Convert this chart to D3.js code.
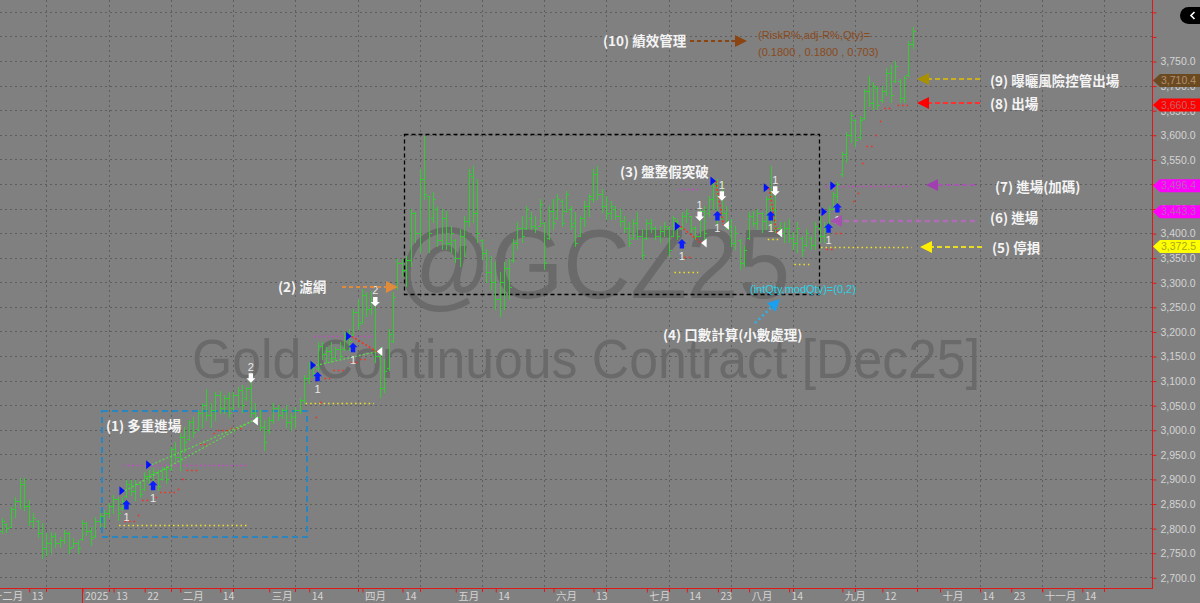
<!DOCTYPE html>
<html><head><meta charset="utf-8">
<script src="https://cdn.jsdelivr.net/npm/d3@7"></script>
<style>
html,body{margin:0;padding:0;background:#808080;overflow:hidden}
svg{display:block}
</style></head><body>
<svg id="c" width="1200" height="603"></svg>
<script>
// ---------------- DATA ----------------
const firstBar = 3; // trading-day index (0 = 2024-12-02) of the first bar drawn
const highs = [
2820,2810,2843,2863,2902,2902,2857,2831,2816,2810,
2790,2792,2790,2782,2796,2792,2780,2776,2816,2812,
2802,2822,2831,2837,2851,2867,2863,2863,2898,2898,
2898,2894,2914,2918,2922,2918,2924,2929,2965,2976,
2994,3006,3020,3027,3041,3055,3082,3055,3076,3078,
3071,3076,3076,3088,3092,3088,3102,3055,3041,3020,
3027,3055,3051,3045,3051,3035,3047,3065,3112,3137,
3137,3178,3178,3169,3178,3169,3178,3198,3204,3245,
3265,3286,3280,3282,3259,3169,3143,3204,3280,3347,
3347,3353,3449,3443,3531,3598,3476,3484,3455,3449,
3445,3414,3388,3408,3435,3531,3537,3510,3388,3367,
3353,3341,3320,3341,3347,3388,3422,3435,3455,3443,
3435,3469,3422,3455,3469,3480,3469,3486,3455,3443,
3435,3465,3480,3531,3537,3490,3476,3465,3455,3449,
3435,3422,3429,3443,3408,3429,3429,3414,3414,3422,
3414,3435,3429,3443,3449,3435,3414,3449,3455,3476,
3504,3510,3504,3455,3429,3414,3388,3373,3443,3445,
3449,3443,3476,3537,3490,3422,3422,3429,3402,3422,
3394,3408,3394,3422,3435,3422,3455,3484,3504,3565,
3606,3647,3633,3639,3694,3720,3708,3700,3700,3735,
3741,3749,3714,3720,3790,3820];
const lows = [
2790,2792,2802,2822,2841,2837,2806,2802,2782,2739,
2745,2749,2761,2761,2769,2749,2761,2749,2776,2786,
2765,2782,2802,2802,2822,2831,2816,2837,2863,2867,
2857,2863,2878,2892,2898,2878,2898,2892,2918,2939,
2918,2955,2980,2986,3000,3006,3020,3006,3020,3035,
3035,3027,3041,3047,3037,3061,3027,3014,3000,2959,
2994,3014,3020,3024,3006,3000,3006,3035,3055,3096,
3108,3122,3143,3137,3137,3143,3143,3163,3163,3190,
3204,3218,3231,3235,3137,3067,3076,3122,3178,3286,
3312,3292,3333,3382,3361,3469,3361,3422,3373,3367,
3367,3361,3341,3333,3353,3414,3422,3382,3347,3300,
3286,3245,3231,3245,3265,3341,3367,3382,3408,3408,
3402,3414,3327,3388,3408,3429,3414,3443,3408,3373,
3394,3414,3435,3463,3469,3443,3429,3429,3429,3414,
3402,3373,3388,3388,3347,3388,3402,3388,3382,3394,
3353,3394,3388,3408,3422,3402,3388,3394,3388,3435,
3449,3414,3429,3408,3373,3367,3327,3333,3388,3414,
3408,3402,3408,3408,3402,3394,3382,3382,3367,3361,
3353,3373,3367,3367,3382,3382,3414,3449,3463,3516,
3545,3586,3578,3592,3633,3659,3653,3653,3667,3680,
3667,3708,3667,3667,3720,3776];
const opens = [
2795,2808,2802,2838,2855,2890,2845,2815,2815,2790,
2760,2770,2785,2770,2775,2790,2762,2770,2778,2810,
2795,2784,2815,2825,2830,2845,2860,2840,2865,2890,
2875,2890,2880,2905,2910,2915,2900,2920,2920,2960,
2945,2985,2982,3015,3002,3035,3050,3030,3040,3070,
3045,3065,3045,3070,3080,3065,3085,3035,3025,3005,
3000,3020,3045,3030,3040,3015,3025,3040,3060,3105,
3130,3125,3170,3155,3160,3145,3165,3165,3190,3192,
3240,3220,3275,3245,3255,3150,3085,3125,3180,3290,
3340,3325,3345,3440,3400,3510,3475,3430,3450,3385,
3430,3380,3385,3350,3395,3425,3515,3440,3385,3360,
3320,3300,3265,3300,3330,3345,3380,3410,3410,3430,
3415,3415,3420,3390,3445,3430,3465,3445,3450,3420,
3395,3430,3455,3470,3520,3480,3455,3440,3450,3435,
3425,3410,3390,3420,3395,3390,3420,3410,3395,3405,
3410,3395,3425,3410,3435,3435,3410,3395,3445,3440,
3470,3495,3430,3440,3415,3380,3385,3340,3390,3435,
3420,3440,3425,3470,3450,3410,3400,3410,3390,3380,
3390,3375,3390,3375,3410,3395,3415,3450,3475,3520,
3560,3600,3630,3595,3635,3690,3665,3695,3670,3690,
3725,3710,3710,3675,3722,3785];
const closes = [
2815,2800,2838,2855,2890,2845,2815,2820,2790,2760,
2770,2785,2770,2775,2790,2760,2770,2760,2810,2795,
2780,2815,2825,2830,2845,2860,2830,2855,2890,2875,
2890,2870,2905,2910,2915,2885,2920,2900,2960,2945,
2985,2975,3015,2995,3035,3050,3030,3040,3070,3045,
3065,3035,3070,3080,3050,3085,3035,3025,3005,2975,
3020,3045,3030,3040,3015,3025,3040,3060,3105,3130,
3115,3170,3155,3160,3145,3165,3150,3190,3180,3240,
3215,3275,3245,3265,3150,3085,3120,3195,3270,3340,
3325,3345,3440,3400,3510,3480,3400,3470,3385,3430,
3380,3400,3350,3395,3425,3520,3440,3400,3360,3320,
3300,3265,3300,3330,3290,3380,3410,3395,3450,3415,
3410,3460,3340,3445,3420,3470,3420,3480,3415,3380,
3430,3455,3475,3520,3480,3455,3440,3455,3435,3425,
3410,3380,3420,3395,3355,3420,3410,3395,3405,3415,
3365,3430,3395,3435,3440,3410,3395,3445,3400,3470,
3495,3430,3440,3415,3380,3400,3340,3365,3435,3420,
3440,3425,3470,3450,3410,3400,3410,3390,3380,3410,
3365,3400,3375,3415,3395,3415,3450,3480,3500,3560,
3600,3640,3590,3630,3690,3665,3700,3660,3690,3725,
3680,3740,3675,3715,3785,3810];

// x-axis labels and the trading-day index they sit on
const tickLabels = ["十二月","13","2025","13","22","二月","14","三月","14","四月","14","五月","14","六月","13","七月","14","23","八月","14","九月","12","十月","14","23","十一月","14"];
const tickBars   = [0,9,21,28,35,43,52,63,72,84,93,105,114,127,136,148,157,164,171,180,192,201,214,223,230,237,246];
const yearBar = 21;
const gridBars = [13,27,41,55,69,83,97,111,125,139,153,167,181,195,209,223,237,251];
const gridPrices = [2700,2750,2800,2850,2900,2950,3000,3050,3100,3150,3200,3250,3300,3350,3400,3450,3500,3550,3600,3650,3700,3750,3800,3850];
const labelPrices = [2700,2750,2800,2850,2900,2950,3000,3050,3100,3150,3200,3250,3300,3350,3400,3450,3500,3550,3600,3650,3700,3750];

// strategy signals: [bar, price]
const entryBars   = [31,37,74,82,156,164,176,189,191];
const entryPrices = [2876,2929,3131,3190,3414,3506,3492,3443.3,3496.4];
const buyBars   = [31,37,74,82,156,164,176,189,191];
const buyPrices = [2847,2886,3108,3167,3378,3435,3435,3410,3451];
const buyQty    = ["1","1","1","1","1","1","1","1","1"];
const sellBars   = [59,87,160,165,177];
const sellPrices = [3106,3261,3435,3476,3486];
const sellQty    = ["2","2","1","1","1"];
const exitBars   = [59,87,160,165,177];
const exitPrices = [3018,3159,3380,3416,3400];
// trade lines [entryBar, entryPrice, exitBar, exitPrice]
const winLines  = [[31,2876,59,3018],[37,2929,59,3018],[74,3131,87,3159]];
const lossLines = [[82,3190,87,3159],[156,3414,160,3380],[164,3506,165,3416],[176,3492,177,3400]];
// level lines [fromBar, toBar, price]
const stopLevels = [[30,58,2806],[72,86,3055],[155,159,3320],[176,177,3388],[182,184,3337],[188,207,3372.5]];
const addLevels  = [[31,58,2929],[74,86,3190],[156,159,3490],[189,207,3496.4]];
const trailLevels = [[31,33,2814],[34,34,2826],[35,36,2857],[38,38,2863],[39,42,2873],[43,43,2880],[44,44,2900],[45,47,2918],[48,50,2971],[51,51,2994],[52,54,3000],[55,57,3004],
  [74,74,3027],[75,75,3057],[76,77,3106],[78,80,3122],[82,83,3137],[84,85,3143],
  [157,158,3351],
  [189,190,3367],[191,192,3400],[195,195,3465],[196,196,3482],[197,197,3543],[198,199,3578],[200,200,3600],[201,201,3627],[202,203,3655],[205,207,3660.5]];
const tagPrices = [3710.4,3660.5,3496.4,3443.3,3372.5];

const notes = ["(1) 多重進場","(2) 濾網","(3) 盤整假突破","(4) 口數計算(小數處理)","(5) 停損","(6) 進場","(7) 進場(加碼)","(8) 出場","(9) 曝曬風險控管出場","(10) 績效管理"];
const perfLines = ["(RiskR%,adj-R%,Qty)=","(0.1800 , 0.1800 , 0.703)"];
const qtyNote = "(intQty,modQty)=(0,2)";
const title = "Gold Continuous Contract [Dec25]";
const symbol = "@GCZ25";

// ---------------- LAYOUT ----------------
const PR = 1152, PB = 588;
const x = d3.scaleLinear().domain([0, 261.8]).range([-11.3, PR]);
const y = d3.scaleLinear().domain([2700, 3750]).range([577.3, 61]);
const px = i => Math.round(x(i)) + 0.5;
const py = v => Math.round(y(v)) + 0.5;
const LAT = "'Liberation Sans', Arial, sans-serif";
const CJK = "'Noto Sans CJK TC', 'Noto Sans CJK SC', sans-serif";

const svg = d3.select("#c");
svg.append("rect").attr("width",1200).attr("height",603).attr("fill","#808080");
svg.append("defs").append("clipPath").attr("id","clip")
  .append("rect").attr("x",0).attr("y",0).attr("width",PR).attr("height",PB);
const plot = svg.append("g").attr("clip-path","url(#clip)");

// grid
plot.append("g").selectAll("line").data(gridPrices).join("line")
  .attr("x1",0).attr("x2",PR).attr("y1",d=>py(d)).attr("y2",d=>py(d))
  .attr("stroke","#5e5e5e").attr("stroke-dasharray","2,3");
plot.append("g").selectAll("line").data(gridBars).join("line")
  .attr("x1",d=>px(d)).attr("x2",d=>px(d)).attr("y1",0).attr("y2",PB)
  .attr("stroke","#5e5e5e").attr("stroke-dasharray","2,3");

// watermark
plot.append("text").text(symbol).attr("x",397).attr("y",298)
  .attr("font-family",LAT).attr("font-size",98).attr("fill","#6a6a6a")
  .attr("textLength",393).attr("lengthAdjust","spacingAndGlyphs");
plot.append("text").text(title).attr("x",192).attr("y",378)
  .attr("font-family",LAT).attr("font-size",56).attr("fill","#6a6a6a")
  .attr("textLength",788).attr("lengthAdjust","spacingAndGlyphs");

// boxes
plot.append("rect").attr("x",102).attr("y",411).attr("width",205).attr("height",126)
  .attr("fill","none").attr("stroke","#2a86c0").attr("stroke-width",2).attr("stroke-dasharray","6,4");
plot.append("rect").attr("x",404.5).attr("y",134.5).attr("width",415).attr("height",160)
  .attr("fill","none").attr("stroke","#000").attr("stroke-width",1.3).attr("stroke-dasharray","4,3");

// bars
const bars = highs.map((h,k)=>({i:firstBar+k,h,l:lows[k],o:opens[k],c:closes[k]}));
const bg = plot.append("g").attr("stroke","#33cc33").attr("stroke-width",1).attr("shape-rendering","crispEdges");
bars.forEach(b=>{
  const xx = px(b.i);
  bg.append("line").attr("x1",xx).attr("x2",xx).attr("y1",Math.round(y(b.h))).attr("y2",Math.round(y(b.l))+1);
  bg.append("line").attr("x1",xx-2.5).attr("x2",xx).attr("y1",py(b.o)).attr("y2",py(b.o));
  bg.append("line").attr("x1",xx).attr("x2",xx+2.5).attr("y1",py(b.c)).attr("y2",py(b.c));
});

// level lines
const lv = plot.append("g");
stopLevels.forEach(s=>lv.append("line").attr("x1",x(s[0])-3).attr("x2",x(s[1])+3).attr("y1",py(s[2])).attr("y2",py(s[2]))
  .attr("stroke","#f0e020").attr("stroke-width",1.5).attr("stroke-dasharray","1.5,3"));
addLevels.forEach(s=>lv.append("line").attr("x1",x(s[0])-3).attr("x2",x(s[1])+3).attr("y1",py(s[2])).attr("y2",py(s[2]))
  .attr("stroke","#d040d0").attr("stroke-width",1.5).attr("stroke-dasharray","1.5,3"));
trailLevels.forEach(s=>lv.append("line").attr("x1",x(s[0])-2).attr("x2",x(s[1])+2).attr("y1",py(s[2])).attr("y2",py(s[2]))
  .attr("stroke","#ff2a1a").attr("stroke-width",1.5).attr("stroke-dasharray","1.5,3"));

// trade lines
winLines.forEach(t=>lv.append("line").attr("x1",x(t[0])-1.5).attr("y1",y(t[1])).attr("x2",x(t[2])+1.5).attr("y2",y(t[3]))
  .attr("stroke","#55dd44").attr("stroke-width",1.2).attr("stroke-dasharray","2,2"));
lossLines.forEach(t=>lv.append("line").attr("x1",x(t[0])-1.5).attr("y1",y(t[1])).attr("x2",x(t[2])+1.5).attr("y2",y(t[3]))
  .attr("stroke","#ff2a1a").attr("stroke-width",1.5).attr("stroke-dasharray","2,2"));

// markers
const mk = plot.append("g");
entryBars.forEach((b,k)=>{
  const tx = x(b)-1.5, ty = y(entryPrices[k]);
  mk.append("path").attr("d",`M${tx},${ty} L${tx-5.5},${ty-4.5} L${tx-5.5},${ty+4.5} Z`).attr("fill","#0010ff");
});
exitBars.forEach((b,k)=>{
  const tx = x(b)+1.5, ty = y(exitPrices[k]);
  mk.append("path").attr("d",`M${tx},${ty} L${tx+5.5},${ty-4.5} L${tx+5.5},${ty+4.5} Z`).attr("fill","#ffffff");
});
const upArrow = "M0,-5 L4.5,-0.5 L2.2,-0.5 L2.2,4.5 L-2.2,4.5 L-2.2,-0.5 L-4.5,-0.5 Z";
const dnArrow = "M0,5 L4.5,0.5 L2.2,0.5 L2.2,-4.5 L-2.2,-4.5 L-2.2,0.5 L-4.5,0.5 Z";
buyBars.forEach((b,k)=>{
  const cx = x(b), cy = y(buyPrices[k]);
  mk.append("path").attr("d",upArrow).attr("transform",`translate(${cx},${cy})`).attr("fill","#0a1eff");
  mk.append("text").text(buyQty[k]).attr("x",cx).attr("y",cy+12).attr("dy","0.35em")
    .attr("text-anchor","middle").attr("font-family",LAT).attr("font-size",11).attr("fill","#e8e8e8");
});
sellBars.forEach((b,k)=>{
  const cx = x(b), cy = y(sellPrices[k]);
  mk.append("path").attr("d",dnArrow).attr("transform",`translate(${cx},${cy})`).attr("fill","#ffffff");
  mk.append("text").text(sellQty[k]).attr("x",cx).attr("y",cy-11).attr("dy","0.35em")
    .attr("text-anchor","middle").attr("font-family",LAT).attr("font-size",11).attr("fill","#e8e8e8");
});

// annotations
const notePos = [[106,426],[278,287],[620,172],[663,335],[992,248],[990,218],[995,187],[990,104],[990,81],[603,41]];
const an = plot.append("g");
notes.forEach((t,k)=>an.append("text").text(t).attr("x",notePos[k][0]).attr("y",notePos[k][1]).attr("dy","0.36em")
  .attr("font-family",CJK).attr("font-weight","bold").attr("font-size",13.5).attr("fill","#f4f4f4"));

function arrow(x1,y1,x2,y2,lineColor,headColor,dash,w){
  const a = Math.atan2(y2-y1,x2-x1), L=12, H=6;
  const bx = x2 - L*Math.cos(a), by = y2 - L*Math.sin(a);
  an.append("line").attr("x1",x1).attr("y1",y1).attr("x2",bx).attr("y2",by)
    .attr("stroke",lineColor).attr("stroke-width",w).attr("stroke-dasharray",dash);
  const nx = -Math.sin(a)*H, ny = Math.cos(a)*H;
  an.append("path").attr("d",`M${x2},${y2} L${bx+nx},${by+ny} L${bx-nx},${by-ny} Z`).attr("fill",headColor);
}
arrow(342,287,398,287,"#e08a3c","#e08a3c","4,3",2);
arrow(690,41,747,41,"#8b4513","#8b4513","4,3",2);
arrow(755,323,780,299,"#30b0e8","#1aa0f0","2,3",2.5);
arrow(982,247,920,247,"#e8dc20","#ffee00","5,3",2);
arrow(975,221,830,221,"#b06ab8","#a850b0","5,4",2.5);
arrow(975,185,926,185,"#a856b4","#a040b0","5,3",2);
arrow(980,103,917,103,"#ff3030","#ff0000","5,3",2);
arrow(980,79,917,79,"#c8b020","#a89000","5,3",2);

perfLines.forEach((t,k)=>an.append("text").text(t).attr("x",758).attr("y",35+k*17).attr("dy","0.35em")
  .attr("font-family",LAT).attr("font-size",11).attr("fill","#8b4a1c"));
an.append("text").text(qtyNote).attr("x",750).attr("y",289).attr("dy","0.35em")
  .attr("font-family",LAT).attr("font-size",11).attr("fill","#2ad2e6");

// axes
const yAxis = d3.axisRight(y).tickValues(gridPrices)
  .tickFormat(v => labelPrices.includes(v) ? d3.format(",.1f")(v) : "").tickSize(4).tickPadding(4);
const ya = svg.append("g").attr("transform",`translate(${PR+0.5},0.5)`).call(yAxis);
ya.select(".domain").remove();
ya.selectAll(".tick line").attr("stroke","#e01818");
ya.selectAll(".tick text").attr("fill","#d4d4d4").attr("font-family",LAT).attr("font-size",10.5);

const xAxis = d3.axisBottom(x).tickValues(tickBars).tickFormat((d,k)=>tickLabels[k]).tickSize(4);
const xa = svg.append("g").attr("transform",`translate(0.5,${PB+0.5})`).call(xAxis);
xa.select(".domain").remove();
xa.selectAll(".tick line").attr("stroke","#e01818");
xa.selectAll(".tick text").attr("fill","#d4d4d4").attr("font-family",CJK).attr("font-size",10.5)
  .attr("text-anchor","start").attr("x",2).attr("y",4).attr("dy","0.71em");
svg.append("g").selectAll("line").data(gridBars).join("line")
  .attr("x1",d=>px(d)).attr("x2",d=>px(d)).attr("y1",PB).attr("y2",PB+4).attr("stroke","#e01818");
svg.append("line").attr("x1",px(yearBar)).attr("x2",px(yearBar)).attr("y1",PB).attr("y2",603).attr("stroke","#e01818");

svg.append("line").attr("x1",0).attr("x2",PR+1).attr("y1",PB+0.5).attr("y2",PB+0.5).attr("stroke","#e01818");
svg.append("line").attr("x1",PR+0.5).attr("x2",PR+0.5).attr("y1",0).attr("y2",PB+1).attr("stroke","#e01818");

// price tags
const tagFill = ["#6b4a22","#ff0000","#ff00ff","#ff00ff","#ffff00"];
const tagText = ["#b0906c","#c46464","#b860b8","#b860b8","#a8a820"];
const tg = svg.append("g");
tagPrices.forEach((p,k)=>{
  const yc = y(p);
  tg.append("path").attr("d",`M${PR+1},${yc} L${PR+8},${yc-6.5} L1200,${yc-6.5} L1200,${yc+6.5} L${PR+8},${yc+6.5} Z`).attr("fill",tagFill[k]);
  tg.append("text").text(d3.format(",.1f")(p)).attr("x",PR+9).attr("y",yc).attr("dy","0.35em")
    .attr("font-family",LAT).attr("font-size",10.5).attr("fill",tagText[k]);
});

// top-right button
svg.append("rect").attr("x",1180).attr("y",7).attr("width",32).attr("height",17).attr("rx",8.5).attr("fill","#000");
svg.append("path").attr("d","M1194.5,12 L1191,15.5 L1194.5,19").attr("fill","none").attr("stroke","#fff").attr("stroke-width",1.6);
</script>
</body></html>
